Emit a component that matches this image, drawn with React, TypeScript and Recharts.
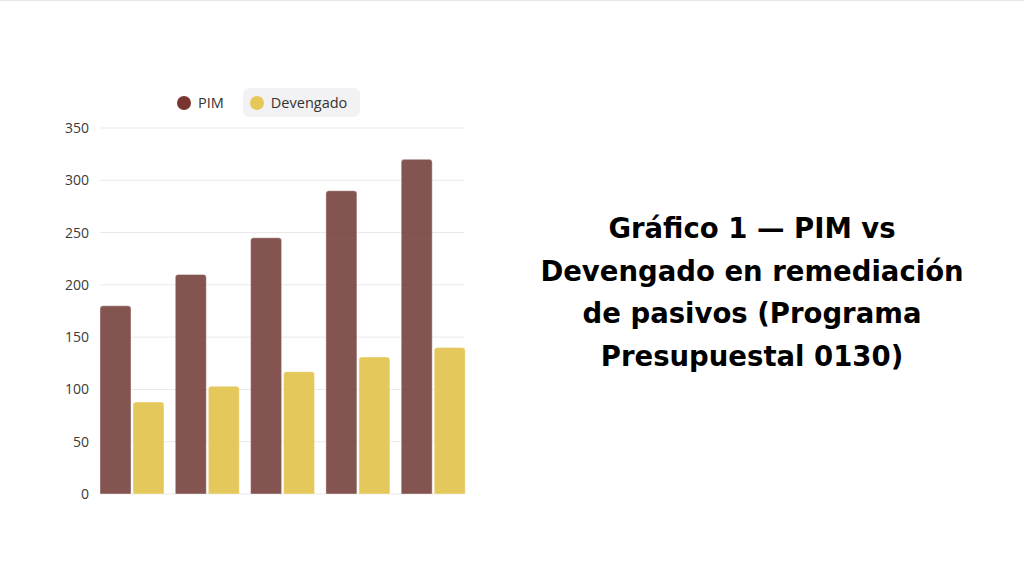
import React from 'react';
import { BarChart, Bar, XAxis, YAxis, CartesianGrid } from 'recharts';

const categories = ['1', '2', '3', '4', '5'];
const pimValues = [180, 210, 245, 290, 320];
const devengadoValues = [88, 103, 117, 131, 140];
const yTicks = [0, 50, 100, 150, 200, 250, 300, 350];

const data = categories.map((c, i) => ({
  name: c,
  pim: pimValues[i],
  devengado: devengadoValues[i],
}));

const PIM_COLOR = '#6e3632';
const DEV_COLOR = '#e4c85c';

const App = () => {
  return (
    <div
      style={{
        position: 'absolute',
        left: 0,
        top: 0,
        width: 1024,
        height: 571,
        background: '#fff',
        borderTop: '1px solid #e6e6e6',
        boxSizing: 'border-box',
        fontFamily: '"Open Sans", sans-serif',
        overflow: 'hidden',
      }}
    >
      {/* legend */}
      <div style={{ position: 'absolute', left: 170, top: 87, display: 'flex', alignItems: 'center', fontSize: 14.5, color: '#333' }}>
        <div style={{ display: 'flex', alignItems: 'center', padding: '0 14px 0 7px', height: 29 }}>
          <span style={{ width: 14, height: 14, borderRadius: 7, background: '#7a3531', marginRight: 7 }} />
          <span>PIM</span>
        </div>
        <div
          style={{
            display: 'flex',
            alignItems: 'center',
            padding: '0 13px 0 7px',
            height: 29,
            background: '#f2f2f4',
            borderRadius: 6,
            marginLeft: 5,
          }}
        >
          <span style={{ width: 14, height: 14, borderRadius: 7, background: '#e6c85a', marginRight: 7 }} />
          <span>Devengado</span>
        </div>
      </div>

      <div style={{ position: 'absolute', left: 0, top: 0 }}>
        <BarChart
          width={480}
          height={520}
          data={data}
          margin={{ top: 127, right: 16, bottom: 27, left: 0 }}
          barCategoryGap={5.65}
          barGap={2}
        >
          <CartesianGrid vertical={false} stroke="#e9e9e9" />
          <XAxis dataKey="name" hide padding={{ left: -5.65, right: -6.85 }} />
          <YAxis
            width={100}
            domain={[0, 350]}
            ticks={yTicks}
            axisLine={false}
            tickLine={false}
            tickMargin={5}
            tick={{ fontSize: 14, fill: '#3a3a3a', fontFamily: '"Open Sans", sans-serif' }}
          />
          <Bar
            dataKey="pim"
            fill={PIM_COLOR}
            fillOpacity={0.85}
            stroke="#ffffff"
            strokeOpacity={0.4}
            radius={[3, 3, 0, 0]}
            isAnimationActive={false}
          />
          <Bar
            dataKey="devengado"
            fill={DEV_COLOR}
            stroke="#ffffff"
            strokeOpacity={0.4}
            radius={[3, 3, 0, 0]}
            isAnimationActive={false}
          />
        </BarChart>
      </div>

      {/* title */}
      <div
        style={{
          position: 'absolute',
          left: 502,
          width: 500,
          top: 206,
          textAlign: 'center',
          fontFamily: '"DejaVu Sans", sans-serif',
          fontWeight: 700,
          fontSize: 27.5,
          lineHeight: '42.5px',
          color: '#000',
        }}
      >
        Gráfico 1 — PIM vs
        <br />
        Devengado en remediación
        <br />
        de pasivos (Programa
        <br />
        Presupuestal 0130)
      </div>
    </div>
  );
};

export default App;
